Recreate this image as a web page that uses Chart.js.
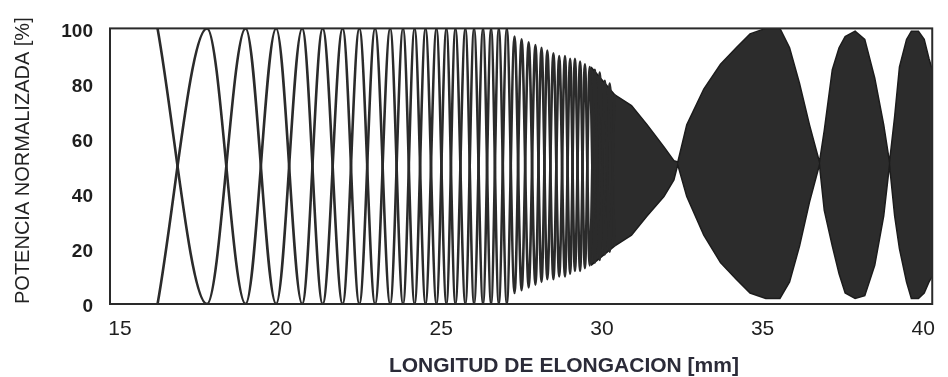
<!DOCTYPE html>
<html>
<head>
<meta charset="utf-8">
<script src="https://cdn.jsdelivr.net/npm/chart.js@4.4.1/dist/chart.umd.min.js"></script>
<style>
html,body{margin:0;padding:0;background:#fff;}
canvas{display:block;}
</style>
</head>
<body>
<canvas id="c" width="948" height="377"></canvas>
<script>
// ---- data ----
const xTicks = [15, 20, 25, 30, 35, 40];
const yTicks = [0, 20, 40, 60, 80, 100];

// positions (mm) of the successive maxima/minima of the two output ports
const extremaX = [16.17, 17.71, 18.91, 19.86, 20.67, 21.31, 21.93, 22.45, 22.94, 23.41,
                  23.81, 24.17, 24.51, 24.85, 25.16, 25.44, 25.75, 26.02, 26.30, 26.55,
                  26.79, 27.04, 27.28, 27.50, 27.72, 27.93, 28.12, 28.30, 28.49, 28.67,
                  28.85, 29.01, 29.16, 29.32, 29.47, 29.62, 29.78, 29.93, 30.09, 30.24, 30.39];
// port 1 power (%) at those extrema
const portA = [100, 0, 100, 0, 100, 0, 100, 0, 100, 0,
               100, 0, 100, 0, 100, 0, 100, 0, 100, 0,
               100, 0, 97, 5, 95, 7, 93, 9, 91, 10,
               90, 11, 89, 12, 87, 14, 85, 16, 81, 19, 76];
// port 2 power (%) at those extrema
const portB = [0, 100, 0, 100, 0, 100, 0, 100, 0, 100,
               0, 100, 0, 100, 0, 100, 0, 100, 0, 100,
               0, 100, 4, 96, 6, 94, 8, 92, 9, 90,
               10, 89, 12, 88, 13, 86, 15, 84, 18, 80, 21];

// dense-oscillation region: envelope of the traces (mm, %)
const envX = [29.66, 30.39, 30.92, 31.41, 31.93, 32.24, 32.36, 32.64, 33.17, 33.69,
              34.18, 34.61, 35.10, 35.54, 35.84, 36.15, 36.46, 36.77, 36.92, 37.17,
              37.38, 37.57, 37.88, 38.18, 38.49, 38.77, 38.95, 39.11, 39.26, 39.48,
              39.63, 39.85, 40.03, 40.18, 40.28];
const envUpper = [86, 76, 72, 65, 57, 52, 51.5, 65, 78, 87,
                  93, 98, 100, 100, 93, 80, 65, 51.5, 63, 85,
                  93, 97, 99, 96, 82, 65, 51.5, 68, 86, 96,
                  99, 99, 96, 89, 85];
const envLower = [14, 21, 25, 32, 39, 45, 50.5, 39, 25, 15,
                  9, 4, 2, 2, 8, 21, 37, 50.5, 34, 21,
                  11, 4, 2, 3, 14, 32, 50.5, 32, 20, 8,
                  2, 2, 4, 8, 10];

const xTitle = 'LONGITUD DE ELONGACION [mm]';
const yTitle = 'POTENCIA NORMALIZADA [%]';

// ---- chart ----
const pts = (xs, ys) => xs.map((x, i) => ({x: x, y: ys[i]}));
const FONT = '"Liberation Sans", Arial, sans-serif';

const framePlugin = {
  id: 'frame',
  afterDatasetsDraw(chart) {
    const {ctx, chartArea: a} = chart;
    ctx.save();
    ctx.strokeStyle = '#2a2a2a';
    ctx.lineWidth = 2;
    ctx.strokeRect(a.left, a.top, a.right - a.left, a.bottom - a.top);
    ctx.restore();
  }
};
const xTitlePlugin = {
  id: 'xtitle',
  afterDraw(chart) {
    const {ctx, chartArea: a} = chart;
    ctx.save();
    ctx.font = 'bold 21px ' + FONT;
    ctx.fillStyle = '#2b2b38';
    ctx.textAlign = 'center';
    ctx.textBaseline = 'middle';
    ctx.fillText(xTitle, a.left + (a.right - a.left) * 0.552, chart.height - 11);
    ctx.restore();
  }
};

const lineStyle = {
  borderColor: '#2b2b2b',
  borderWidth: 2.6,
  pointRadius: 0,
  fill: false,
  cubicInterpolationMode: 'monotone'
};

new Chart(document.getElementById('c'), {
  type: 'line',
  data: {
    datasets: [
      Object.assign({label: 'Puerto 1', data: pts(extremaX, portA)}, lineStyle),
      Object.assign({label: 'Puerto 2', data: pts(extremaX, portB)}, lineStyle),
      {label: 'env sup', data: pts(envX, envUpper), borderColor: '#1c1c1c', borderWidth: 1.5,
       pointRadius: 0, fill: false, tension: 0},
      {label: 'env inf', data: pts(envX, envLower), borderColor: '#1c1c1c', borderWidth: 1.5,
       pointRadius: 0, fill: '-1', backgroundColor: '#2c2c2c', tension: 0}
    ]
  },
  options: {
    responsive: false,
    animation: false,
    devicePixelRatio: 1,
    layout: {padding: {left: 0, right: 7, top: 12, bottom: 0}},
    plugins: {legend: {display: false}, tooltip: {enabled: false}},
    scales: {
      x: {
        type: 'linear',
        min: 14.69,
        max: 40.28,
        afterBuildTicks: s => { s.ticks = xTicks.map(v => ({value: v})); },
        afterFit: s => { s.height = 73; },
        grid: {display: false, drawTicks: false},
        border: {display: false},
        ticks: {font: {family: FONT, size: 21}, color: '#1e1e1e', padding: 13,
                maxRotation: 0, autoSkip: false}
      },
      y: {
        type: 'linear',
        min: 0,
        max: 100,
        afterBuildTicks: s => { s.ticks = yTicks.map(v => ({value: v})); },
        afterFit: s => { s.width = 110; },
        grid: {display: false, drawTicks: false},
        border: {display: false},
        ticks: {font: {family: FONT, size: 19, weight: 'bold'}, color: '#1e1e1e',
                padding: 17, labelOffset: 3},
        title: {display: true, text: yTitle, align: 'start',
                font: {family: FONT, size: 20}, color: '#222222',
                padding: {top: 11, bottom: 0}}
      }
    }
  },
  plugins: [framePlugin, xTitlePlugin]
});
</script>
</body>
</html>
